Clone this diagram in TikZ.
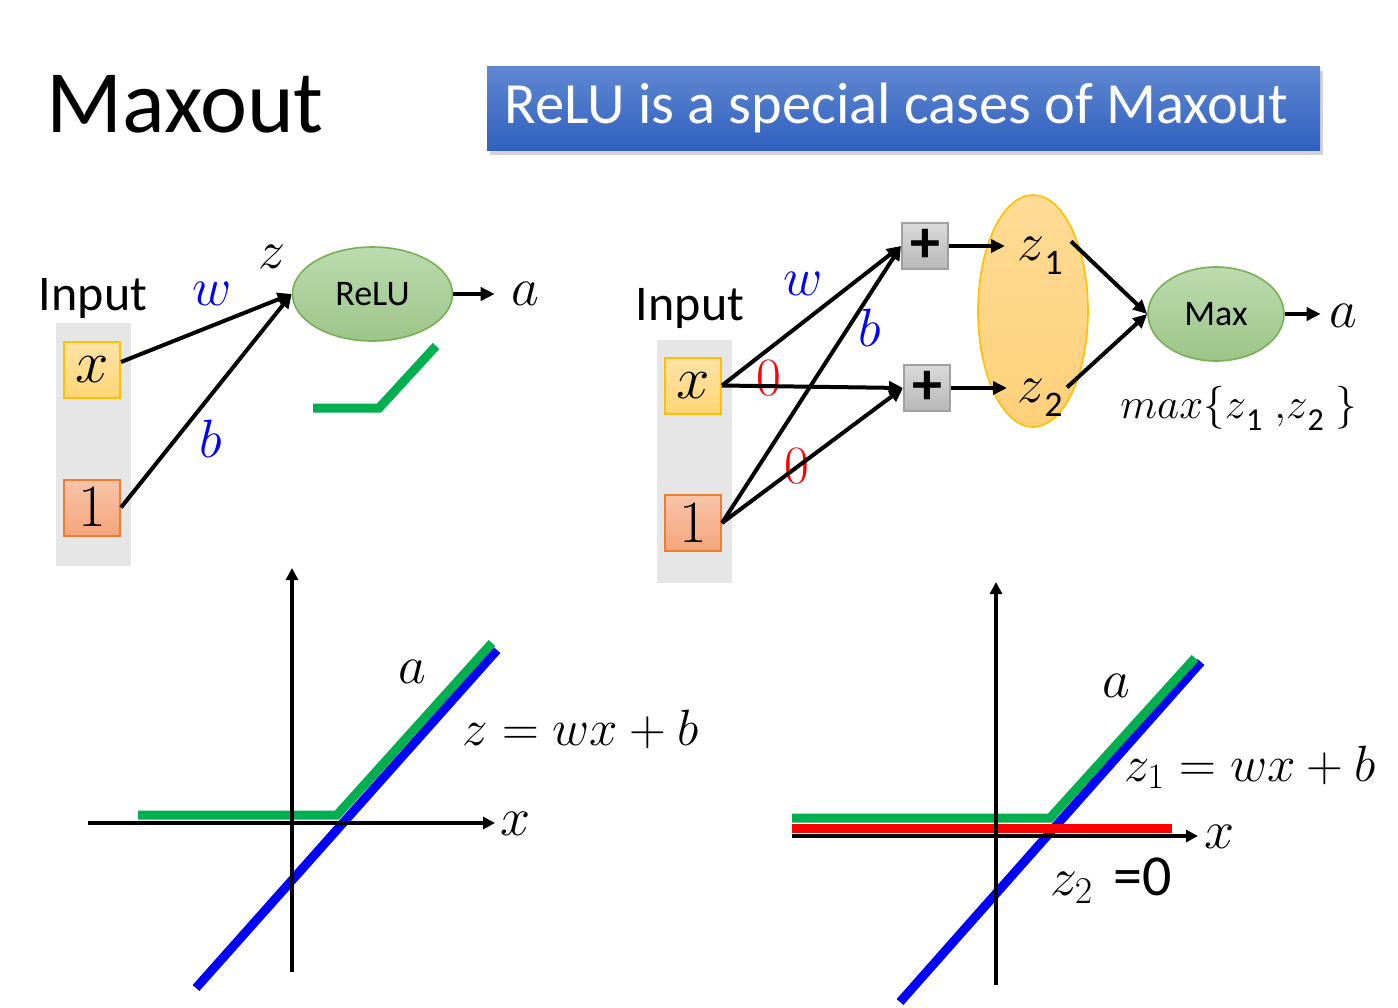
\RequirePackage{fix-cm}
\documentclass[tikz,border=0pt]{standalone}
\usepackage[no-math]{fontspec}
\setmainfont{Carlito}
\usetikzlibrary{arrows.meta,shapes.geometric,shadows}
\definecolor{bgray}{HTML}{E7E6E6}
\definecolor{xtop}{HTML}{FFE3A6}
\definecolor{xbot}{HTML}{FFD576}
\definecolor{xbord}{HTML}{FFC000}
\definecolor{otop}{HTML}{F8C4A8}
\definecolor{obot}{HTML}{F4A57B}
\definecolor{obord}{HTML}{ED7D31}
\definecolor{gtop}{HTML}{BCDBAF}
\definecolor{gbot}{HTML}{9CC589}
\definecolor{gbord}{HTML}{78B053}
\definecolor{ptop}{HTML}{DADADA}
\definecolor{pbot}{HTML}{B8B8B8}
\definecolor{pbord}{HTML}{A0A0A0}
\definecolor{ztop}{HTML}{FFDB95}
\definecolor{zbot}{HTML}{FFD07A}
\definecolor{bantop}{HTML}{6088D2}
\definecolor{banbot}{HTML}{3060BE}
\definecolor{plgreen}{HTML}{00B050}
\newcommand\SzM{\fontsize{27}{32}\selectfont}
\newcommand\SzEq{\fontsize{25.5}{30}\selectfont}
\newcommand\SzSub{\fontsize{18}{20}\selectfont}
\begin{document}
\begin{tikzpicture}[x=0.5pt,y=-0.5pt,
  conn/.style={line width=2pt,-{Triangle[length=7pt,width=6.5pt]}},
  axisline/.style={line width=1.6pt,-{Triangle[length=6pt,width=6pt]}},
  greenl/.style={line width=4.5pt,draw=plgreen},
  bluel/.style={line width=4.5pt,draw=blue},
  redl/.style={line width=4.5pt,draw=red},
  band/.style={fill=bgray,draw=none,minimum width=37.5pt,minimum height=121.5pt,inner sep=0},
  inbox/.style={rectangle,line width=1pt,minimum width=28pt,minimum height=28pt,inner sep=0,font=\fontsize{30}{30}\selectfont},
  xbox/.style={inbox,draw=xbord,top color=xtop,bottom color=xbot},
  onebox/.style={inbox,draw=obord,top color=otop,bottom color=obot},
  gell/.style={ellipse,draw=gbord,line width=0.8pt,top color=gtop,bottom color=gbot,inner sep=0,font=\fontsize{18}{20}\selectfont},
  plusbox/.style={rectangle,draw=pbord,line width=1pt,top color=ptop,bottom color=pbot,minimum width=23pt,minimum height=23pt,inner sep=0,font=\fontsize{30}{30}\selectfont\bfseries},
  lbl/.style={inner sep=0,font=\SzM},
  inputtxt/.style={inner sep=0,font=\fontsize{25}{30}\selectfont},
  banner/.style={rectangle,draw=none,top color=bantop,bottom color=banbot,minimum width=416.5pt,minimum height=42pt,text=white,font=\fontsize{29.2}{34}\selectfont,drop shadow={opacity=0.35,shadow xshift=1.5pt,shadow yshift=-2.5pt}}
]
\useasboundingbox (0,0) rectangle (1398,1007);
\fill[white] (0,0) rectangle (1398,1007);

% title and banner
\node[inner sep=0,font=\fontsize{44.5}{50}\selectfont,anchor=base] (title) at (185,132) {Maxout};
\node[banner] (banner) at (903.5,108) {ReLU is a special cases of Maxout\kern 7pt};

% ---------------- left network ----------------
\node[band] (g1) at (93.5,444.5) {};
\node[inputtxt,anchor=base] (in1) at (93,310) {Input};
\node[xbox] (x1) at (92,370) {$x$};
\node[onebox] (o1) at (92,507.5) {$1$};
\node[gell,minimum width=80pt,minimum height=47pt] (relu) at (372.5,294) {ReLU};
\node[lbl,anchor=base] (zl) at (272,268) {$z$};
\node[lbl,anchor=base,text=blue] (wl) at (212,305) {$w$};
\node[lbl,anchor=base,text=blue] (bl) at (211,457) {$b$};
\node[lbl,anchor=base] (a1) at (525,305) {$a$};
\draw[conn] ([yshift=4pt]x1.east) -- (relu.west);
\draw[conn] (o1.east) -- (relu.west);
\draw[conn,shorten >=8pt] (relu.east) -- (relu.east -| a1.west);
\draw[greenl] (313,408) -- (379,408) -- (436,346);

% ---------------- right network ----------------
\node[band] (g2) at (694.5,461) {};
\node[inputtxt,anchor=base] (in2) at (690,320) {Input};
\node[xbox] (x2) at (693,385.5) {$x$};
\node[onebox] (o2) at (693,523) {$1$};
\node[plusbox] (p1) at (925,246) {+};
\node[plusbox] (p2) at (927,388) {+};
\node[ellipse,draw=xbord,line width=0.8pt,top color=ztop,bottom color=zbot,minimum width=55pt,minimum height=116pt] (zell) at (1033,311) {};
\node[lbl,anchor=base west] (z1) at (1017,260) {$z$\raisebox{-7pt}{\SzSub 1}};
\node[lbl,anchor=base west] (z2) at (1017,402) {$z$\raisebox{-7pt}{\SzSub 2}};
\node[gell,minimum width=68pt,minimum height=47pt] (mx) at (1216,314) {Max};
\node[lbl,anchor=base] (a2) at (1343,327) {$a$};
\node[inner sep=0,anchor=base west,font=\fontsize{21.5}{26}\selectfont] (maxl) at (1120,418) {$max\{z$\raisebox{-6pt}{\fontsize{16}{18}\selectfont 1}$\;,\!z$\raisebox{-6pt}{\fontsize{16}{18}\selectfont 2}$\;\}$};
\node[lbl,anchor=base,text=blue] (w2) at (803,295) {$w$};
\node[lbl,anchor=base,text=blue] (b2) at (870,346) {$b$};
\node[lbl,anchor=base,text=red] (r1) at (769,395) {$0$};
\node[lbl,anchor=base,text=red] (r2) at (797,483) {$0$};
\draw[conn] (x2.east) -- (p1.west);
\draw[conn] (x2.east) -- (p2.west);
\draw[conn] (o2.east) -- (p1.west);
\draw[conn] (o2.east) -- (p2.west);
\draw[conn,shorten >=6pt] (p1.east) -- (p1.east -| z1.west);
\draw[conn,shorten >=5pt] (p2.east) -- (p2.east -| z2.west);
\draw[conn] ([xshift=4pt,yshift=7pt]z1.east) -- (mx.west);
\draw[conn] ([xshift=2pt,yshift=5pt]z2.east) -- (mx.west);
\draw[conn,shorten >=4pt] (mx.east) -- (mx.east -| a2.west);

% ---------------- bottom-left plot ----------------
\draw[bluel] (196,988) -- (497,650);
\draw[greenl] (138,815) -- (337,815) -- (492,643);
\draw[axisline] (88,823) -- (495,823);
\draw[axisline] (292,972) -- (292,568);
\node[lbl,anchor=base] (ax1) at (516,835) {$x$};
\node[lbl,anchor=base] (aa1) at (412,683) {$a$};
\node[lbl,anchor=base west,font=\SzEq] (eq1) at (462,745) {$z=wx+b$};

% ---------------- bottom-right plot ----------------
\draw[bluel] (900,1002) -- (1201,662);
\draw[greenl] (792,818) -- (1050,818) -- (1195,658);
\draw[redl] (792,828) -- (1172,828);
\draw[axisline] (792,836) -- (1198,836);
\draw[axisline] (996,985) -- (996,582);
\node[lbl,anchor=base] (ax2) at (1220,848) {$x$};
\node[lbl,anchor=base] (aa2) at (1116,697) {$a$};
\node[lbl,anchor=base west,font=\SzEq] (eq2) at (1124,781) {$z_1=wx+b$};
\node[lbl,anchor=base west] (eq3) at (1050,895) {$z_2$\hspace{10pt}{\fontsize{29}{34}\selectfont =0}};
\end{tikzpicture}
\end{document}
